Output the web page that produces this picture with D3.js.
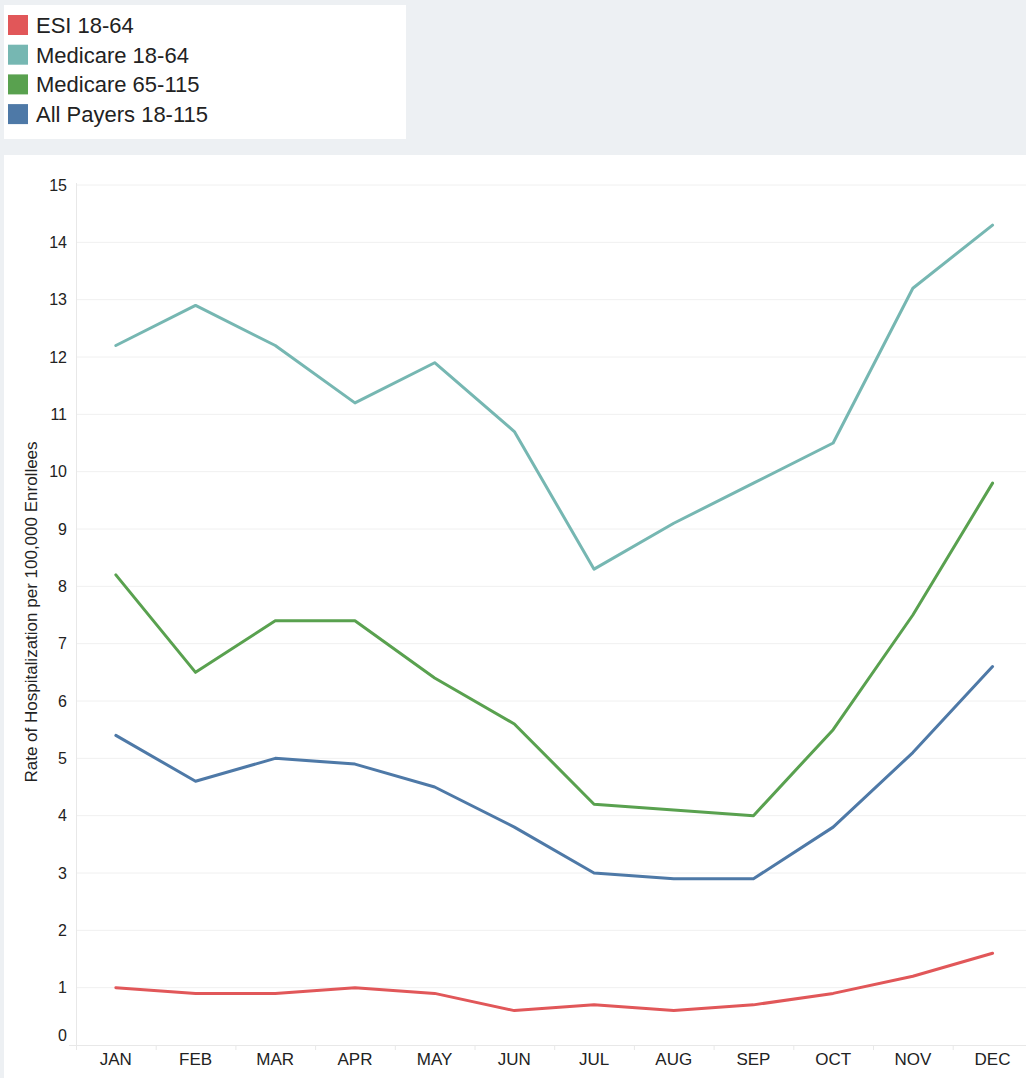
<!DOCTYPE html>
<html>
<head>
<meta charset="utf-8">
<script src="https://cdn.jsdelivr.net/npm/d3@7"></script>
<style>
  html, body { margin: 0; padding: 0; background: #edf0f3; }
  svg { display: block; font-family: "Liberation Sans", Arial, sans-serif; }
</style>
</head>
<body>
<div id="chart"></div>
<script>
const months = ['JAN', 'FEB', 'MAR', 'APR', 'MAY', 'JUN', 'JUL', 'AUG', 'SEP', 'OCT', 'NOV', 'DEC'];
const seriesNames = ['ESI 18-64', 'Medicare 18-64', 'Medicare 65-115', 'All Payers 18-115'];
const seriesColors = ['#e15759', '#76b7b2', '#59a14f', '#4e79a7'];
const esi1864 = [1.0, 0.9, 0.9, 1.0, 0.9, 0.6, 0.7, 0.6, 0.7, 0.9, 1.2, 1.6];
const medicare1864 = [12.2, 12.9, 12.2, 11.2, 11.9, 10.7, 8.3, 9.1, 9.8, 10.5, 13.2, 14.3];
const medicare65115 = [8.2, 6.5, 7.4, 7.4, 6.4, 5.6, 4.2, 4.1, 4.0, 5.5, 7.5, 9.8];
const allPayers = [5.4, 4.6, 5.0, 4.9, 4.5, 3.8, 3.0, 2.9, 2.9, 3.8, 5.1, 6.6];
const yTicks = [0, 1, 2, 3, 4, 5, 6, 7, 8, 9, 10, 11, 12, 13, 14, 15];
const yTitle = 'Rate of Hospitalization per 100,000 Enrollees';

const seriesValues = [esi1864, medicare1864, medicare65115, allPayers];

const width = 1026, height = 1078;
const svg = d3.select('#chart').append('svg')
  .attr('width', width)
  .attr('height', height);

// legend card
const legend = svg.append('g');
legend.append('rect')
  .attr('x', 4).attr('y', 5).attr('width', 402).attr('height', 134)
  .attr('fill', '#fff');
seriesNames.forEach((name, i) => {
  const g = legend.append('g').attr('transform', `translate(8, ${15 + i * 29.7})`);
  g.append('rect').attr('width', 20).attr('height', 20).attr('fill', seriesColors[i]);
  g.append('text')
    .attr('x', 28).attr('y', 10).attr('dy', '0.36em')
    .attr('font-size', 22).attr('fill', '#222')
    .text(name);
});

// chart card
svg.append('rect')
  .attr('x', 4).attr('y', 155).attr('width', width - 4).attr('height', height - 155)
  .attr('fill', '#fff');

const left = 76, bandW = 79.7;
const x = d3.scaleBand()
  .domain(months)
  .range([left, left + bandW * months.length]);

const y = d3.scaleLinear()
  .domain([0, 15])
  .range([1045, 185]);

// grid
svg.append('g')
  .selectAll('line')
  .data(yTicks.filter(d => d > 0))
  .join('line')
  .attr('x1', left).attr('x2', width)
  .attr('y1', d => y(d)).attr('y2', d => y(d))
  .attr('stroke', '#f0f0f0').attr('stroke-width', 1);

// axes lines
svg.append('line')
  .attr('x1', left + 0.5).attr('x2', left + 0.5)
  .attr('y1', 183).attr('y2', 1050)
  .attr('stroke', '#e8e8e8');
svg.append('line')
  .attr('x1', 69).attr('x2', width)
  .attr('y1', 1045.5).attr('y2', 1045.5)
  .attr('stroke', '#e8e8e8');

// x band ticks
svg.append('g')
  .selectAll('line')
  .data(months.slice(1))
  .join('line')
  .attr('x1', d => x(d) + 0.5).attr('x2', d => x(d) + 0.5)
  .attr('y1', 1045).attr('y2', 1050)
  .attr('stroke', '#e8e8e8');

// y tick labels
svg.append('g')
  .selectAll('text')
  .data(yTicks)
  .join('text')
  .attr('x', 67)
  .attr('y', d => d === 0 ? y(d) - 10 : y(d))
  .attr('dy', '0.36em')
  .attr('text-anchor', 'end')
  .attr('font-size', 16)
  .attr('fill', '#222')
  .text(d => d);

// x labels
svg.append('g')
  .selectAll('text')
  .data(months)
  .join('text')
  .attr('x', d => x(d) + x.bandwidth() / 2)
  .attr('y', 1059)
  .attr('dy', '0.36em')
  .attr('text-anchor', 'middle')
  .attr('font-size', 17)
  .attr('fill', '#222')
  .text(d => d);

// y title
svg.append('text')
  .attr('transform', 'translate(31, 612) rotate(-90)')
  .attr('text-anchor', 'middle')
  .attr('dy', '0.36em')
  .attr('font-size', 17)
  .attr('fill', '#222')
  .text(yTitle);

// lines
const line = d3.line()
  .x((d, i) => x(months[i]) + x.bandwidth() / 2)
  .y(d => y(d));

svg.append('g')
  .selectAll('path')
  .data(seriesValues)
  .join('path')
  .attr('d', line)
  .attr('fill', 'none')
  .attr('stroke', (d, i) => seriesColors[i])
  .attr('stroke-width', 3)
  .attr('stroke-linejoin', 'round')
  .attr('stroke-linecap', 'round');
</script>
</body>
</html>
